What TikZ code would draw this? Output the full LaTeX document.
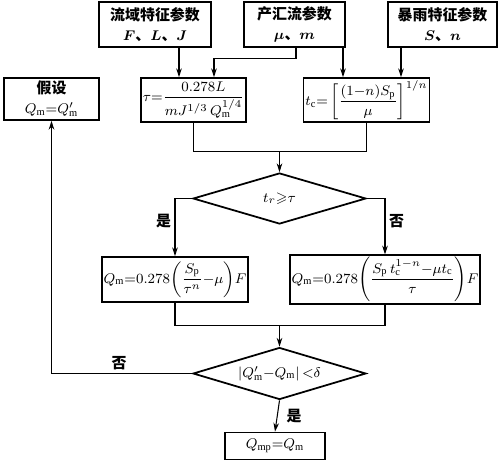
\documentclass[tikz,border=0pt]{standalone}
\usepackage{amsmath,amssymb}
\usepackage{fontspec}
\setmainfont{Liberation Serif}
\newfontfamily\cjk{Noto Sans CJK SC}
\usetikzlibrary{shapes.geometric, arrows.meta, positioning, calc}
\newcommand{\zh}[1]{{\cjk\bfseries #1}}
\newcommand{\dun}{\zh{、}}
\tikzset{
  fc box/.style={
    rectangle, draw=black, line width=1pt, fill=white,
    minimum height=0.9cm, inner sep=1pt,
    text centered, font=\fontsize{8.5}{11}\selectfont
  },
  fc decision/.style={
    diamond, draw=black, line width=1pt, fill=white, aspect=3.4,
    minimum width=3.46cm, minimum height=1.02cm, inner sep=0pt,
    text centered, font=\fontsize{8.5}{11}\selectfont
  },
  fc arrow/.style={
    -{Stealth[length=5pt, width=3.2pt]}, line width=0.6pt, draw=black
  },
  fc line/.style={
    line width=0.6pt, draw=black
  },
  fc label/.style={
    font=\fontsize{8.5}{10}\selectfont, inner sep=2pt
  }
}

\begin{document}
\begin{tikzpicture}[x=0.02cm, y=-0.02cm, align=center]
  \useasboundingbox (0,0) rectangle (500,460);

  % input parameters
  \node (par1) [fc box, minimum width=2.24cm] at (155,24.5) {\zh{流域特征参数}\\$\boldsymbol{F}$\dun$\boldsymbol{L}$\dun$\boldsymbol{J}$};
  \node (par2) [fc box, minimum width=2.02cm] at (294.5,24.5) {\zh{产汇流参数}\\$\boldsymbol{\mu}$\dun$\boldsymbol{m}$};
  \node (par3) [fc box, minimum width=2.18cm] at (442.5,24.5) {\zh{暴雨特征参数}\\$\boldsymbol{S}$\dun$\boldsymbol{n}$};

  \node (assume) [fc box, minimum width=1.9cm, minimum height=0.84cm] at (51.5,99) {\zh{假设}\\$Q_{\mathrm{m}}{=}Q'_{\mathrm{m}}$};
  \node (tau) [fc box, minimum width=1.86cm, minimum height=0.88cm] at (193.5,100)
    {$\tau{=}\dfrac{0.278L}{mJ^{1/3}\,Q_{\mathrm{m}}^{1/4}}$};
  \node (tc) [fc box, minimum width=2.06cm, minimum height=0.88cm] at (366.5,100)
    {$t_{\mathrm{c}}{=}\left[\dfrac{(1{-}n)S_{\mathrm{p}}}{\mu}\right]^{1/n}$};

  \node (dec1) [fc decision] at (279.5,198.5) {$t_r{\geqslant}\tau$};

  \node (qa) [fc box, minimum width=2.76cm] at (175,279.5)
    {$Q_{\mathrm{m}}{=}0.278\!\left(\dfrac{S_{\mathrm{p}}}{\tau^n}{-}\mu\right)\!F$};
  \node (qb) [fc box, minimum width=3.32cm] at (385,279.5)
    {$Q_{\mathrm{m}}{=}0.278\!\left(\dfrac{\rule{0pt}{9pt}S_{\mathrm{p}}\,t_{\mathrm{c}}^{1-n}{-}\mu t_{\mathrm{c}}}{\tau}\right)\!F$};

  \node (dec2) [fc decision, minimum height=1.04cm] at (279.5,373.5)
    {$\left|Q'_{\mathrm{m}}{-}Q_{\mathrm{m}}\right|{<}\delta$};
  \node (qmp) [fc box, minimum width=2cm, minimum height=0.54cm] at (275,446)
    {$Q_{\mathrm{mp}}{=}Q_{\mathrm{m}}$};

  % ports
  \coordinate (t1) at ($(tau.north)+(-14.5,0)$);
  \coordinate (t2) at ($(tau.north)+(20.5,0)$);
  \coordinate (t3) at ($(tc.north)+(-23.5,0)$);
  \coordinate (t4) at ($(tc.north)+(34.5,0)$);
  \coordinate (m1) at ($(dec1.north)+(0,-21)$);
  \coordinate (m2) at ($(dec2.north)+(0,-21)$);

  \draw [fc arrow] (t1 |- par1.south) -- (t1);
  \draw [fc arrow] ($(par2.south)+(1.5,0)$) -- ++(0,11) -| (t2);
  \draw [fc arrow] (t3 |- par2.south) -- (t3);
  \draw [fc arrow] (t4 |- par3.south) -- (t4);

  \draw [fc line] (tau.south) |- (m1) -| (tc.south);
  \draw [fc arrow] (m1) -- (dec1.north);

  \draw [fc arrow] (dec1.west) -| (qa.north) node [fc label, pos=0.7, left] {\zh{是}};
  \draw [fc arrow] (dec1.east) -| (qb.north) node [fc label, pos=0.7, right] {\zh{否}};

  \draw [fc line] (qa.south) |- (m2) -| (qb.south);
  \draw [fc arrow] (m2) -- (dec2.north);

  \draw [fc arrow] (dec2.west) -| (assume.south) node [fc label, pos=0.26, above] {\zh{否}};
  \draw [fc arrow] (dec2.south) -- (qmp.north) node [fc label, midway, right, xshift=3pt] {\zh{是}};
\end{tikzpicture}
\end{document}
